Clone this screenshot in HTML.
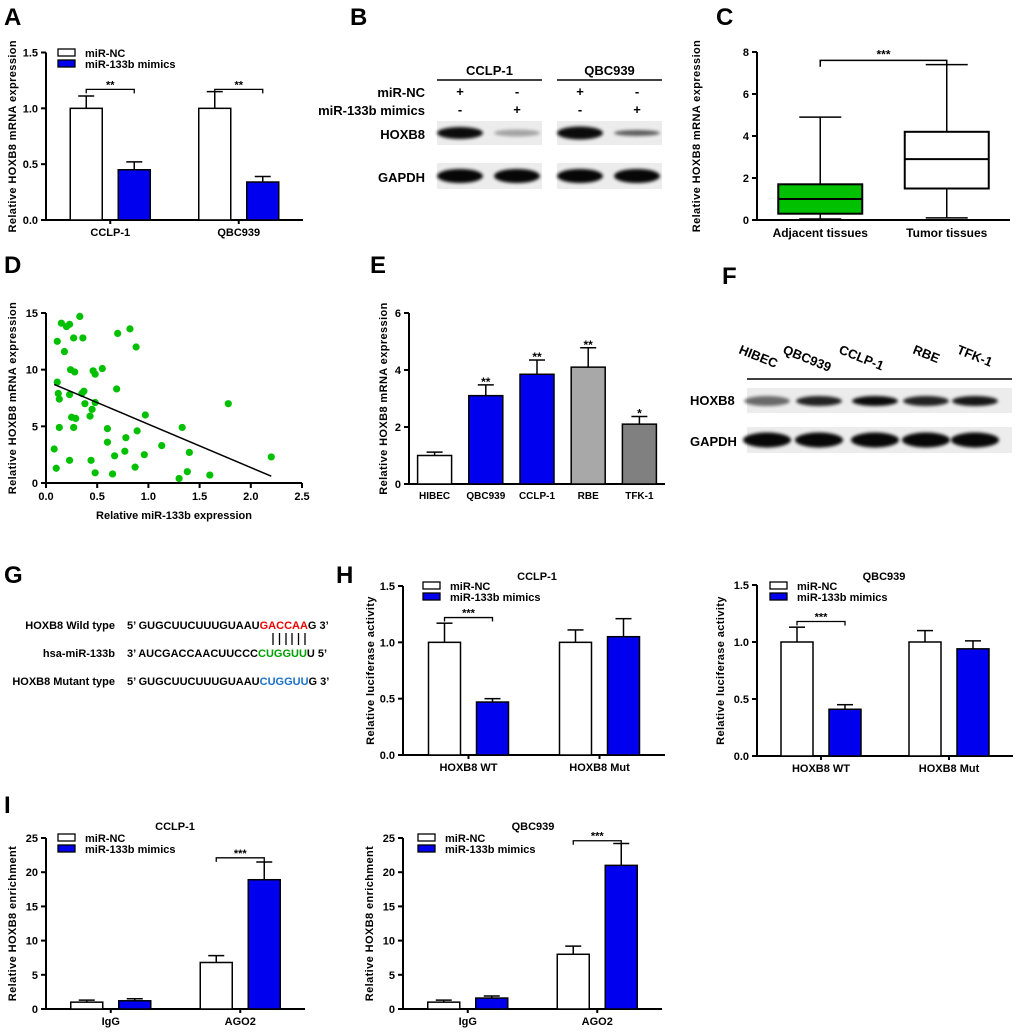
<!DOCTYPE html>
<html><head><meta charset="utf-8"><style>
html,body{margin:0;padding:0;background:#fff;}
svg{display:block;font-family:"Liberation Sans",Arial,sans-serif;font-weight:bold;}
</style></head><body>
<svg id="fig" width="1020" height="1034" viewBox="0 0 1020 1034" xmlns="http://www.w3.org/2000/svg"></svg>
<script>
// ---------- DATA ----------
const aCats = ["CCLP-1","QBC939"];
const aNC = [1.0, 1.0];
const aNCErr = [0.11, 0.15];
const aMim = [0.45, 0.34];
const aMimErr = [0.07, 0.05];
const aTicks = [0, 0.5, 1.0, 1.5];

const cCats = ["Adjacent tissues","Tumor tissues"];
const cMin = [0.05, 0.1];
const cQ1 = [0.3, 1.5];
const cMed = [1.0, 2.9];
const cQ3 = [1.7, 4.2];
const cMax = [4.9, 7.4];
const cTicks = [0, 2, 4, 6, 8];

const dX = [0.08,0.10,0.11,0.11,0.12,0.13,0.13,0.15,0.18,0.20,0.23,0.23,0.23,0.24,0.25,0.27,0.27,0.28,0.29,0.33,0.35,0.36,0.37,0.38,0.43,0.44,0.45,0.46,0.48,0.48,0.48,0.55,0.60,0.60,0.67,0.65,0.69,0.70,0.77,0.78,0.82,0.87,0.88,0.89,0.96,0.97,1.13,1.30,1.33,1.38,1.40,1.60,1.78,2.20];
const dY = [3.0,1.3,12.5,8.9,7.9,7.4,4.9,14.1,11.6,13.8,14.0,2.0,7.8,10.0,5.8,4.9,12.8,9.8,5.7,14.7,7.9,12.8,8.1,7.0,5.9,2.0,6.5,9.9,9.6,0.9,7.1,10.1,4.8,3.6,2.4,0.8,8.3,13.2,2.8,4.0,13.6,1.4,12.0,4.6,2.5,6.0,3.3,0.4,4.9,1.0,2.7,0.7,7.0,2.3];
const dFitX = [0.08, 2.2];
const dFitY = [8.7, 0.6];
const dXTicks = [0, 0.5, 1.0, 1.5, 2.0, 2.5];
const dYTicks = [0, 5, 10, 15];

const eCats = ["HIBEC","QBC939","CCLP-1","RBE","TFK-1"];
const eVals = [1.0, 3.1, 3.85, 4.1, 2.1];
const eErr = [0.12, 0.38, 0.5, 0.68, 0.27];
const eStars = ["", "**", "**", "**", "*"];
const eColors = ["#ffffff","#0000ee","#0000ee","#a8a8a8","#808080"];
const eTicks = [0, 2, 4, 6];

const hCats = ["HOXB8 WT","HOXB8 Mut"];
const h1NC = [1.0, 1.0];
const h1NCErr = [0.17, 0.11];
const h1Mim = [0.47, 1.05];
const h1MimErr = [0.03, 0.16];
const h2NC = [1.0, 1.0];
const h2NCErr = [0.13, 0.10];
const h2Mim = [0.41, 0.94];
const h2MimErr = [0.04, 0.07];
const hTicks = [0, 0.5, 1.0, 1.5];

const iCats = ["IgG","AGO2"];
const i1NC = [1.0, 6.8];
const i1NCErr = [0.3, 1.0];
const i1Mim = [1.2, 18.9];
const i1MimErr = [0.3, 2.6];
const i2NC = [1.0, 8.0];
const i2NCErr = [0.3, 1.2];
const i2Mim = [1.6, 21.0];
const i2MimErr = [0.3, 3.2];
const iTicks = [0, 5, 10, 15, 20, 25];

// ---------- HELPERS ----------
const NS = "http://www.w3.org/2000/svg";
const svg = document.getElementById("fig");
function el(tag, attrs, parent, text){
  const e = document.createElementNS(NS, tag);
  for (const k in attrs) e.setAttribute(k, attrs[k]);
  if (text !== undefined) e.textContent = text;
  (parent || svg).appendChild(e);
  return e;
}
function grp(name, parent){
  const g = el("g", {}, parent);
  
  
  return g;
}
function txt(g, x, y, s, size, anchor, name, extra){
  const a = {x:x, y:y, "font-size":size, "text-anchor":anchor||"middle", fill:"#000"};
  if (extra) for (const k in extra) a[k]=extra[k];
  const t = el("text", a, g, s);
  
  
  return t;
}
function fmt1(v){ return v.toFixed(1); }
function fmt0(v){ return String(v); }

function yAxis(g, ox, y0, yTop, max, ticks, f, xEnd, title, titleX){
  const ys = v => y0 - (v/max)*(y0-yTop);
  const ax = el("line",{x1:ox,y1:yTop,x2:ox,y2:y0,stroke:"#000","stroke-width":2},g);
  
  
  const xa = el("line",{x1:ox,y1:y0,x2:xEnd,y2:y0,stroke:"#000","stroke-width":2},g);
  
  
  ticks.forEach(t=>{
    const y = ys(t);
    const tk = el("line",{x1:ox-5,y1:y,x2:ox,y2:y,stroke:"#000","stroke-width":2},g);
    
    
    txt(g, ox-8, y+4, f(t), 11, "end", "y-tick-label");
  });
  const cy = (y0+yTop)/2;
  txt(g, titleX, cy, title, 11, "middle", "y-axis-title", {transform:`rotate(-90 ${titleX} ${cy})`, "letter-spacing":"0.4"});
  return ys;
}
function errBar(g, cx, yv, ye){
  const e1 = el("line",{x1:cx,y1:yv,x2:cx,y2:ye,stroke:"#000","stroke-width":1.5},g);
  
  
  const e2 = el("line",{x1:cx-8,y1:ye,x2:cx+8,y2:ye,stroke:"#000","stroke-width":1.5},g);
  
  
}
function bar(g, x, w, y0, yv, fill, name){
  const r = el("rect",{x:x,y:yv,width:w,height:y0-yv,fill:fill,stroke:"#000","stroke-width":1.5},g);
  
  
}
function legend(g, x, y){
  const r1 = el("rect",{x:x,y:y,width:17,height:7,fill:"#fff",stroke:"#000","stroke-width":1.3},g);
  
  
  const r2 = el("rect",{x:x,y:y+11,width:17,height:7,fill:"#0000ee",stroke:"#000","stroke-width":1.3},g);
  
  
  txt(g, x+27, y+8, "miR-NC", 11, "start", "legend-entry-nc");
  txt(g, x+27, y+19, "miR-133b mimics", 11, "start", "legend-entry-mimics");
}
function bracket(g, x1, x2, y, stars){
  const p = el("path",{d:`M${x1} ${y+4} V${y} H${x2} V${y+4}`,fill:"none",stroke:"#000","stroke-width":1.3},g);
  
  
  txt(g, (x1+x2)/2, y-1, stars, 11, "middle", "significance-stars");
}
function groupedChart(name, o, cats, nc, ncErr, mim, mimErr, max, ticks, f, yTitle, starsY, starsTxt){
  const g = grp(name);
  const ys = yAxis(g, o.ox, o.y0, o.yTop, max, ticks, f, o.xEnd, yTitle, o.titleX);
  const band = (o.xEnd - o.ox)/cats.length;
  cats.forEach((c,i)=>{
    const cx = o.ox + band*(i+0.5);
    bar(g, cx-40, 32, o.y0, ys(nc[i]), "#fff", "bar-nc-"+c.toLowerCase().replace(/\s+/g,'-'));
    errBar(g, cx-24, ys(nc[i]), ys(nc[i]+ncErr[i]));
    bar(g, cx+8, 32, o.y0, ys(mim[i]), "#0000ee", "bar-mimics-"+c.toLowerCase().replace(/\s+/g,'-'));
    errBar(g, cx+24, ys(mim[i]), ys(mim[i]+mimErr[i]));
    const tk = el("line",{x1:cx,y1:o.y0,x2:cx,y2:o.y0+4,stroke:"#000","stroke-width":2},g);
    
    
    txt(g, cx, o.y0+16, c, 11, "middle", "x-tick-label");
    if (starsY[i] !== null) bracket(g, cx-24, cx+24, ys(starsY[i]), starsTxt);
  });
  legend(g, o.legX, o.legY);
  if (o.title) txt(g, o.titleCx, o.titleY, o.title, 11, "middle", "chart-title");
  return g;
}
function letter(s, x, y){
  txt(svg, x, y, s, 24, "start", "panel-label-"+s.toLowerCase());
}

// ---------- PANEL A ----------
letter("A", 4, 25);
groupedChart("panel-a-chart", {ox:46,y0:220,yTop:52.5,xEnd:303,titleX:16,legX:58,legY:49},
  aCats, aNC, aNCErr, aMim, aMimErr, 1.5, aTicks, fmt1, "Relative HOXB8 mRNA expression", [1.17,1.17], "**");

// ---------- PANEL B (western blot) ----------
letter("B", 350, 25);
function blotBand(g, cx, cy, w, h, op, name){
  const e = el("ellipse",{cx:cx,cy:cy,rx:w/2,ry:h/2,fill:"#000",opacity:op,filter:"url(#blur)"},g);
  
  
}
const defs = el("defs",{});
const flt = el("filter",{id:"blur",x:"-20%",y:"-50%",width:"140%",height:"200%"},defs);
el("feGaussianBlur",{stdDeviation:"1.6"},flt);
(function(){
  const g = grp("panel-b-blot");
  const groups = [["CCLP-1",437,542],["QBC939",557,662]];
  const hoxOp = [[0.95,0.3],[0.95,0.6]];
  const hoxH = [[12,7],[13,6]];
  groups.forEach((gr,gi)=>{
    const [nm,x1,x2] = gr;
    txt(g,(x1+x2)/2,75,nm,13,"middle","cell-line-label");
    const l = el("line",{x1:x1,y1:80,x2:x2,y2:80,stroke:"#000","stroke-width":1.5},g);
     
    [["+","-"],["-","+"]].forEach((pm,li)=>{
      const lx = x1 + (li===0?23:80);
      txt(g,lx,96,pm[0],13,"middle","treatment-sign");
      txt(g,lx,114,pm[1],13,"middle","treatment-sign");
    });
    const bg1 = el("rect",{x:x1,y:121,width:x2-x1,height:24,fill:"#ececec"},g);
     
    const bg2 = el("rect",{x:x1,y:163,width:x2-x1,height:26,fill:"#ececec"},g);
     
    [0,1].forEach(li=>{
      const lx = x1 + (li===0?23:80);
      blotBand(g, lx, 133, 46, hoxH[gi][li], hoxOp[gi][li], "hoxb8-band");
      blotBand(g, lx, 176, 46, 14, 0.97, "gapdh-band");
    });
  });
  txt(g,425,97,"miR-NC",13,"end","row-label-mir-nc");
  txt(g,425,115,"miR-133b mimics",13,"end","row-label-mimics");
  txt(g,425,139,"HOXB8",13,"end","row-label-hoxb8");
  txt(g,425,182,"GAPDH",13,"end","row-label-gapdh");
})();

// ---------- PANEL C (box plot) ----------
letter("C", 716, 25);
(function(){
  const g = grp("panel-c-boxplot");
  const ox=757, y0=220, yTop=52, xEnd=1010;
  const ys = yAxis(g, ox, y0, yTop, 8, cTicks, fmt0, xEnd, "Relative HOXB8 mRNA expression", 700);
  const band = (xEnd-ox)/cCats.length;
  const fills = ["#00c000","#ffffff"];
  cCats.forEach((c,i)=>{
    const cx = ox + band*(i+0.5);
    const w1 = el("line",{x1:cx,y1:ys(cMax[i]),x2:cx,y2:ys(cMin[i]),stroke:"#000","stroke-width":1.5},g);
     
    [cMax[i],cMin[i]].forEach(v=>{
      const cp = el("line",{x1:cx-21,y1:ys(v),x2:cx+21,y2:ys(v),stroke:"#000","stroke-width":1.5},g);
       
    });
    const b = el("rect",{x:cx-42,y:ys(cQ3[i]),width:84,height:ys(cQ1[i])-ys(cQ3[i]),fill:fills[i],stroke:"#000","stroke-width":2},g);
     
    const m = el("line",{x1:cx-42,y1:ys(cMed[i]),x2:cx+42,y2:ys(cMed[i]),stroke:"#000","stroke-width":2},g);
     
    txt(g, cx, y0+17, c, 12, "middle", "x-tick-label");
  });
  const p = el("path",{d:`M${ox+band*0.5} ${ys(7.3)} V${ys(7.6)} H${ox+band*1.5} V${ys(7.3)}`,fill:"none",stroke:"#000","stroke-width":1.5},g);
   
  txt(g, ox+band, ys(7.6)-2, "***", 12, "middle", "significance-stars");
})();

// ---------- PANEL D (scatter) ----------
letter("D", 4, 273);
(function(){
  const g = grp("panel-d-scatter");
  const ox=46, y0=483, yTop=313, xEnd=302, xMax=2.5;
  const ys = yAxis(g, ox, y0, yTop, 15, dYTicks, fmt0, xEnd, "Relative HOXB8 mRNA expression", 16);
  const xs = v => ox + v/xMax*(xEnd-ox);
  dXTicks.forEach(t=>{
    const tk = el("line",{x1:xs(t),y1:y0,x2:xs(t),y2:y0+5,stroke:"#000","stroke-width":2},g);
     
    txt(g, xs(t), y0+17, fmt1(t), 11, "middle", "x-tick-label");
  });
  txt(g, 174, 519, "Relative miR-133b expression", 11, "middle", "x-axis-title");
  dX.forEach((x,i)=>{
    const c = el("circle",{cx:xs(x),cy:ys(dY[i]),r:3.6,fill:"#00c000"},g);
     
  });
  const fl = el("line",{x1:xs(dFitX[0]),y1:ys(dFitY[0]),x2:xs(dFitX[1]),y2:ys(dFitY[1]),stroke:"#000","stroke-width":1.5},g);
   
})();

// ---------- PANEL E ----------
letter("E", 370, 273);
(function(){
  const g = grp("panel-e-chart");
  const ox=409, y0=484, yTop=313, xEnd=665;
  const ys = yAxis(g, ox, y0, yTop, 6, eTicks, fmt0, xEnd, "Relative HOXB8 mRNA expression", 387);
  const band = (xEnd-ox)/eCats.length;
  eCats.forEach((c,i)=>{
    const cx = ox + band*(i+0.5);
    bar(g, cx-17, 34, y0, ys(eVals[i]), eColors[i], "bar-"+c.toLowerCase());
    errBar(g, cx, ys(eVals[i]), ys(eVals[i]+eErr[i]));
    txt(g, cx, y0+15, c, 10, "middle", "x-tick-label");
    if (eStars[i]) txt(g, cx, ys(eVals[i]+eErr[i])+1, eStars[i], 12, "middle", "significance-stars");
  });
})();

// ---------- PANEL F (blot) ----------
letter("F", 722, 284);
(function(){
  const g = grp("panel-f-blot");
  const lanes = ["HIBEC","QBC939","CCLP-1","RBE","TFK-1"];
  const labX = [738,782,838,912,956];
  const hoxOp = [0.55,0.85,0.95,0.85,0.9];
  lanes.forEach((l,i)=>{
    txt(g, labX[i], 353, l, 13, "start", "lane-label", {transform:`rotate(22 ${labX[i]} 353)`});
  });
  const ln = el("line",{x1:747,y1:379,x2:1012,y2:379,stroke:"#000","stroke-width":1.5},g);
   
  const b1 = el("rect",{x:747,y:388,width:265,height:25,fill:"#ececec"},g);
   
  const b2 = el("rect",{x:747,y:427,width:265,height:26,fill:"#ececec"},g);
   
  [767,819,875,926,975].forEach((x,i)=>{
    blotBand(g, x, 401, 46, 10, hoxOp[i], "hoxb8-band");
    blotBand(g, x, 440, 48, 15, 0.97, "gapdh-band");
  });
  txt(g, 690, 405, "HOXB8", 13, "start", "row-label-hoxb8");
  txt(g, 690, 446, "GAPDH", 13, "start", "row-label-gapdh");
})();

// ---------- PANEL G (sequence) ----------
letter("G", 4, 583);
(function(){
  const g = grp("panel-g-sequences");
  const fs = 11;
  function row(y, label, parts, name){
    txt(g, 115, y, label, fs, "end", name+"-label");
    const t = el("text",{x:127,y:y,"font-size":fs,fill:"#000"},g);
    
    
    parts.forEach(p=>{ el("tspan",{fill:p[1]},t,p[0]); });
  }
  row(629, "HOXB8 Wild type", [["5’ GUGCUUCUUUGUAAU","#000"],["GACCAA","#ee0000"],["G 3’","#000"]], "wild-type");
  row(657, "hsa-miR-133b", [["3’ AUCGACCAACUUCCC","#000"],["CUGGUU","#00a000"],["U 5’","#000"]], "mirna");
  row(685, "HOXB8 Mutant type", [["5’ GUGCUUCUUUGUAAU","#000"],["CUGGUU","#1a6fc8"],["G 3’","#000"]], "mutant-type");
  [273,279.5,286,292,298.5,305].forEach(x=>{
    const l = el("line",{x1:x,y1:633,x2:x,y2:645,stroke:"#000","stroke-width":1.3},g);
     
  });
})();

// ---------- PANEL H ----------
letter("H", 336, 583);
groupedChart("panel-h-cclp1-chart", {ox:403,y0:755,yTop:586,xEnd:665,titleX:374,legX:423,legY:582,title:"CCLP-1",titleCx:537,titleY:580},
  hCats, h1NC, h1NCErr, h1Mim, h1MimErr, 1.5, hTicks, fmt1, "Relative luciferase activity", [1.22,null], "***");
groupedChart("panel-h-qbc939-chart", {ox:757,y0:756,yTop:585,xEnd:1013,titleX:724,legX:770,legY:582,title:"QBC939",titleCx:884,titleY:580},
  hCats, h2NC, h2NCErr, h2Mim, h2MimErr, 1.5, hTicks, fmt1, "Relative luciferase activity", [1.18,null], "***");

// ---------- PANEL I ----------
letter("I", 4, 813);
groupedChart("panel-i-cclp1-chart", {ox:46,y0:1009,yTop:838,xEnd:305,titleX:16,legX:58,legY:834,title:"CCLP-1",titleCx:175,titleY:830},
  iCats, i1NC, i1NCErr, i1Mim, i1MimErr, 25, iTicks, fmt0, "Relative HOXB8 enrichment", [null,22.1], "***");
groupedChart("panel-i-qbc939-chart", {ox:403,y0:1009,yTop:838,xEnd:662,titleX:373,legX:418,legY:834,title:"QBC939",titleCx:533,titleY:830},
  iCats, i2NC, i2NCErr, i2Mim, i2MimErr, 25, iTicks, fmt0, "Relative HOXB8 enrichment", [null,24.6], "***");
</script>
</body></html>
